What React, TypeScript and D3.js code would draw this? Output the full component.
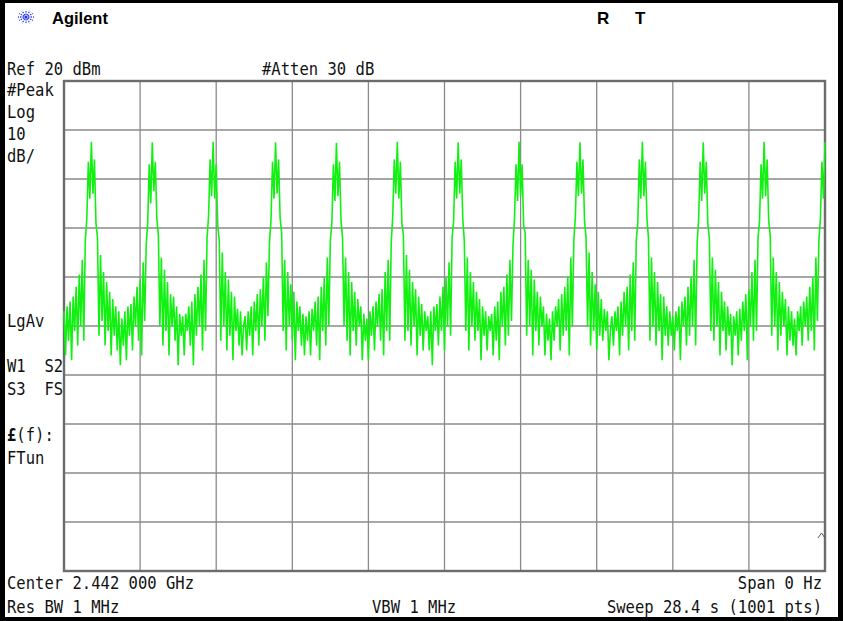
import React from "react";
import * as d3 from "d3";

// analyzer settings shown on screen
const refLevel = 20;
const dbPerDiv = 10;
const divisions = 10;
const sweepTime = 28.4;

// trace, in dBm, one array per burst
const cycle0 = [-27, -36, -26, -33, -25, -37, -24, -31, -22, -34, -19.5, -30, -16.5, -33, -12.5, -8, 3.5, -4, 7.6, -3, 4, -9, -12, -32, -15.5, -29, -19, -34, -21, -31, -23, -36, -24.5, -32, -26, -35, -27, -38];
const cycle1 = [-28.5, -34, -27, -37, -26, -32, -25.5, -35, -24, -30, -22, -33, -20.5, -36, -17, -29, -13.5, -9, 3, -5, 7.5, -2.5, 3.5, -8, -11.5, -30, -16, -34, -18.5, -31, -21, -36, -23.5, -30, -24, -33, -26, -38, -27.5, -32];
const cycle2 = [-28, -36, -27.5, -31, -26, -34, -25, -38, -23.5, -32, -22, -30, -19.5, -35, -16.5, -31, -12, -7.5, 4, -3.5, 7.6, -4, 3, -9.5, -12.5, -33, -15, -30, -19, -35, -20.5, -32, -23, -37, -24, -31, -26.5, -34, -27, -36];
const cycle3 = [-30, -28, -35, -27, -32, -26, -36, -25, -31, -23.5, -34, -22.5, -30, -20, -33, -17, -28, -13, -8.5, 3.5, -4, 7.5, -3, 4, -8, -11, -31, -16.5, -35, -19, -30, -21.5, -33, -23, -37, -25, -31, -26, -34, -27.5, -36];
const cycle4 = [-28, -33, -27, -36, -26.5, -31, -25, -34, -24, -37, -22, -31, -20, -34, -16, -30, -12.5, -9, 3, -4.5, 7.4, -3.5, 3.5, -8.5, -12, -30, -16, -33, -19, -36, -21, -31, -23, -34, -24.5, -30, -26, -37, -27.5, -33];
const cycle5 = [-28.5, -37, -27, -32, -26, -35, -25, -30, -23.5, -33, -22.5, -36, -19, -31, -16.5, -33, -13, -7.5, 4, -3, 7.6, -4, 3.5, -9, -11.5, -33, -15.5, -31, -18.5, -34, -21, -30, -22.5, -36, -24, -32, -25.5, -35, -27, -31];
const cycle6 = [-28, -35, -27, -38, -26, -31, -25.5, -34, -24, -31, -22, -35, -20, -30, -17, -32, -12, -8.5, 3.5, -4, 7.5, -3, 4, -8, -12.5, -31, -16, -35, -19, -30, -21, -33, -23, -31, -24.5, -37, -26, -32, -27, -35];
const cycle7 = [-28, -31, -27.5, -36, -26, -33, -25, -37, -23, -30, -22, -34, -19.5, -32, -16.5, -29, -13.5, -8, 3, -4.5, 7.6, -3.5, 3, -9.5, -11, -32, -16.5, -30, -18.5, -36, -20.5, -31, -23, -34, -24, -30, -26, -36, -27.5, -33];
const cycle8 = [-28.5, -37, -27, -33, -26, -30, -24.5, -35, -23.5, -32, -22, -31, -20, -36, -16, -30, -12.5, -7.5, 3.5, -3.5, 7.5, -3, 4, -8.5, -12, -30, -15, -34, -19, -31, -21.5, -35, -23, -32, -24.5, -33, -26.5, -31, -27, -37];
const cycle9 = [-31, -28, -34, -27, -31, -26, -36, -25, -32, -23, -30, -22, -35, -19.5, -31, -17, -33, -12.5, -9, 4, -4, 7.6, -3.5, 3.5, -8, -12, -33, -16, -30, -19, -34, -21, -31, -23.5, -37, -24, -32, -26, -34, -27, -32];
const cycle10 = [-28, -35, -27, -31, -26, -37, -25, -30, -24, -34, -22, -32, -20, -30, -16.5, -34, -13, -8, 3.5, -4.5, 7.5, -3, 3.5, -9, -12, -31, -16, -33, -18.5, -30, -21, -36, -23, -31, -25, -35, -26, -32, -27.5, -38];
const cycle11 = [-28, -32, -27, -36, -26.5, -33, -25, -31, -23.5, -37, -22.5, -30, -19, -33, -16.5, -31, -12, -8.5, 3, -4, 7.6, -3.5, 4, -8.5, -11.5, -32, -16, -30, -19, -35, -21, -32, -23, -30, -24.5, -36, -26, -33, -27, -34];
const cycle12 = [-28.5, -36, -27, -31, -26, -34, -25, -30, -24, -33, -22, -31, -20, -35, -16, -29, -12.5, -8, 3.5, -4, 7.5];

const trace = [
  ...cycle0, ...cycle1, ...cycle2, ...cycle3, ...cycle4, ...cycle5, ...cycle6,
  ...cycle7, ...cycle8, ...cycle9, ...cycle10, ...cycle11, ...cycle12,
];

const leftLabels = [
  { t: "#Peak", y: 96 },
  { t: "Log", y: 118 },
  { t: "10", y: 140 },
  { t: "dB/", y: 162 },
  { t: "LgAv", y: 327 },
  { t: "W1  S2", y: 372 },
  { t: "S3  FS", y: 395 },
  { t: "FTun", y: 464 },
];

const MONO = "'DejaVu Sans Mono', 'Liberation Mono', monospace";
const SX = 0.84;

function Mono({ x, y, anchor, children, weight }: any) {
  return (
    <text
      transform={`translate(${x},${y}) scale(${SX},1)`}
      textAnchor={anchor || "start"}
      fontFamily={MONO}
      fontSize={18.5}
      fontWeight={weight || "normal"}
      fill="#111"
      style={{ whiteSpace: "pre" }}
    >
      {children}
    </text>
  );
}

export default function App() {
  const W = 843;
  const H = 621;
  const left = 64, right = 825, top = 81, bottom = 571;

  const x = d3.scaleLinear().domain([0, sweepTime]).range([left, right]);
  const y = d3.scaleLinear().domain([refLevel - dbPerDiv * divisions, refLevel]).range([bottom, top]);

  const n = trace.length;
  const line = d3.line<number>()
    .x((d, i) => x((i * sweepTime) / (n - 1)))
    .y(d => y(d));

  const xTicks = d3.range(1, divisions).map(i => (i * sweepTime) / divisions);
  const yTicks = d3.range(1, divisions).map(i => refLevel - i * dbPerDiv);

  // logo rays
  const rays = d3.range(12).map(i => (i * Math.PI * 2) / 12);

  return (
    <svg width={W} height={H} style={{ position: "fixed", left: 0, top: 0, display: "block" }}>
      <rect x={0} y={0} width={W} height={H} fill="#000" />
      <rect x={5} y={3} width={833} height={614} fill="#fff" />

      {/* header */}
      <g transform="translate(26,17)">
        {rays.map((a, i) => (
          <line key={i} x1={Math.cos(a) * 2} y1={Math.sin(a) * 2}
            x2={Math.cos(a) * 8} y2={Math.sin(a) * 7}
            stroke="#3848f0" strokeWidth={1.3} strokeDasharray="1.5 1" />
        ))}
        <circle r={1.6} fill="#2030e0" />
      </g>
      <text x={52} y={24} fontFamily="'Liberation Sans', Arial, sans-serif" fontWeight="bold" fontSize={16.5} fill="#000">Agilent</text>
      <text x={597} y={24} fontFamily="'Liberation Sans', Arial, sans-serif" fontWeight="bold" fontSize={17} fill="#000">R</text>
      <text x={635} y={24} fontFamily="'Liberation Sans', Arial, sans-serif" fontWeight="bold" fontSize={17} fill="#000">T</text>

      <Mono x={7} y={75}>Ref 20 dBm</Mono>
      <Mono x={262} y={75}>#Atten 30 dB</Mono>

      {leftLabels.map(l => (
        <Mono key={l.t} x={7} y={l.y}>{l.t}</Mono>
      ))}
      <Mono x={7} y={441}>
        <tspan fontWeight="bold">£</tspan>(f):
      </Mono>

      {/* graticule */}
      <g>
        {xTicks.map((t, i) => (
          <line key={"x" + i} x1={x(t)} x2={x(t)} y1={top} y2={bottom} stroke="#8a8a8a" strokeWidth={1.3} />
        ))}
        {yTicks.map((t, i) => (
          <line key={"y" + i} x1={left} x2={right} y1={y(t)} y2={y(t)} stroke="#8a8a8a" strokeWidth={1.3} />
        ))}
        <rect x={left} y={top} width={right - left} height={bottom - top} fill="none" stroke="#6c6c6c" strokeWidth={2.4} />
      </g>

      {/* trace */}
      <path d={line(trace) || ""} fill="none" stroke="#12f012" strokeWidth={1.6} strokeLinejoin="miter" />

      <path d="M818,538 L821.5,533 L825,538" fill="none" stroke="#555" strokeWidth={1} />

      {/* footer */}
      <Mono x={7} y={589}>Center 2.442 000 GHz</Mono>
      <Mono x={822} y={589} anchor="end">Span 0 Hz</Mono>
      <Mono x={7} y={613}>Res BW 1 MHz</Mono>
      <Mono x={372} y={613}>VBW 1 MHz</Mono>
      <Mono x={822} y={613} anchor="end">Sweep 28.4 s (1001 pts)</Mono>
    </svg>
  );
}
